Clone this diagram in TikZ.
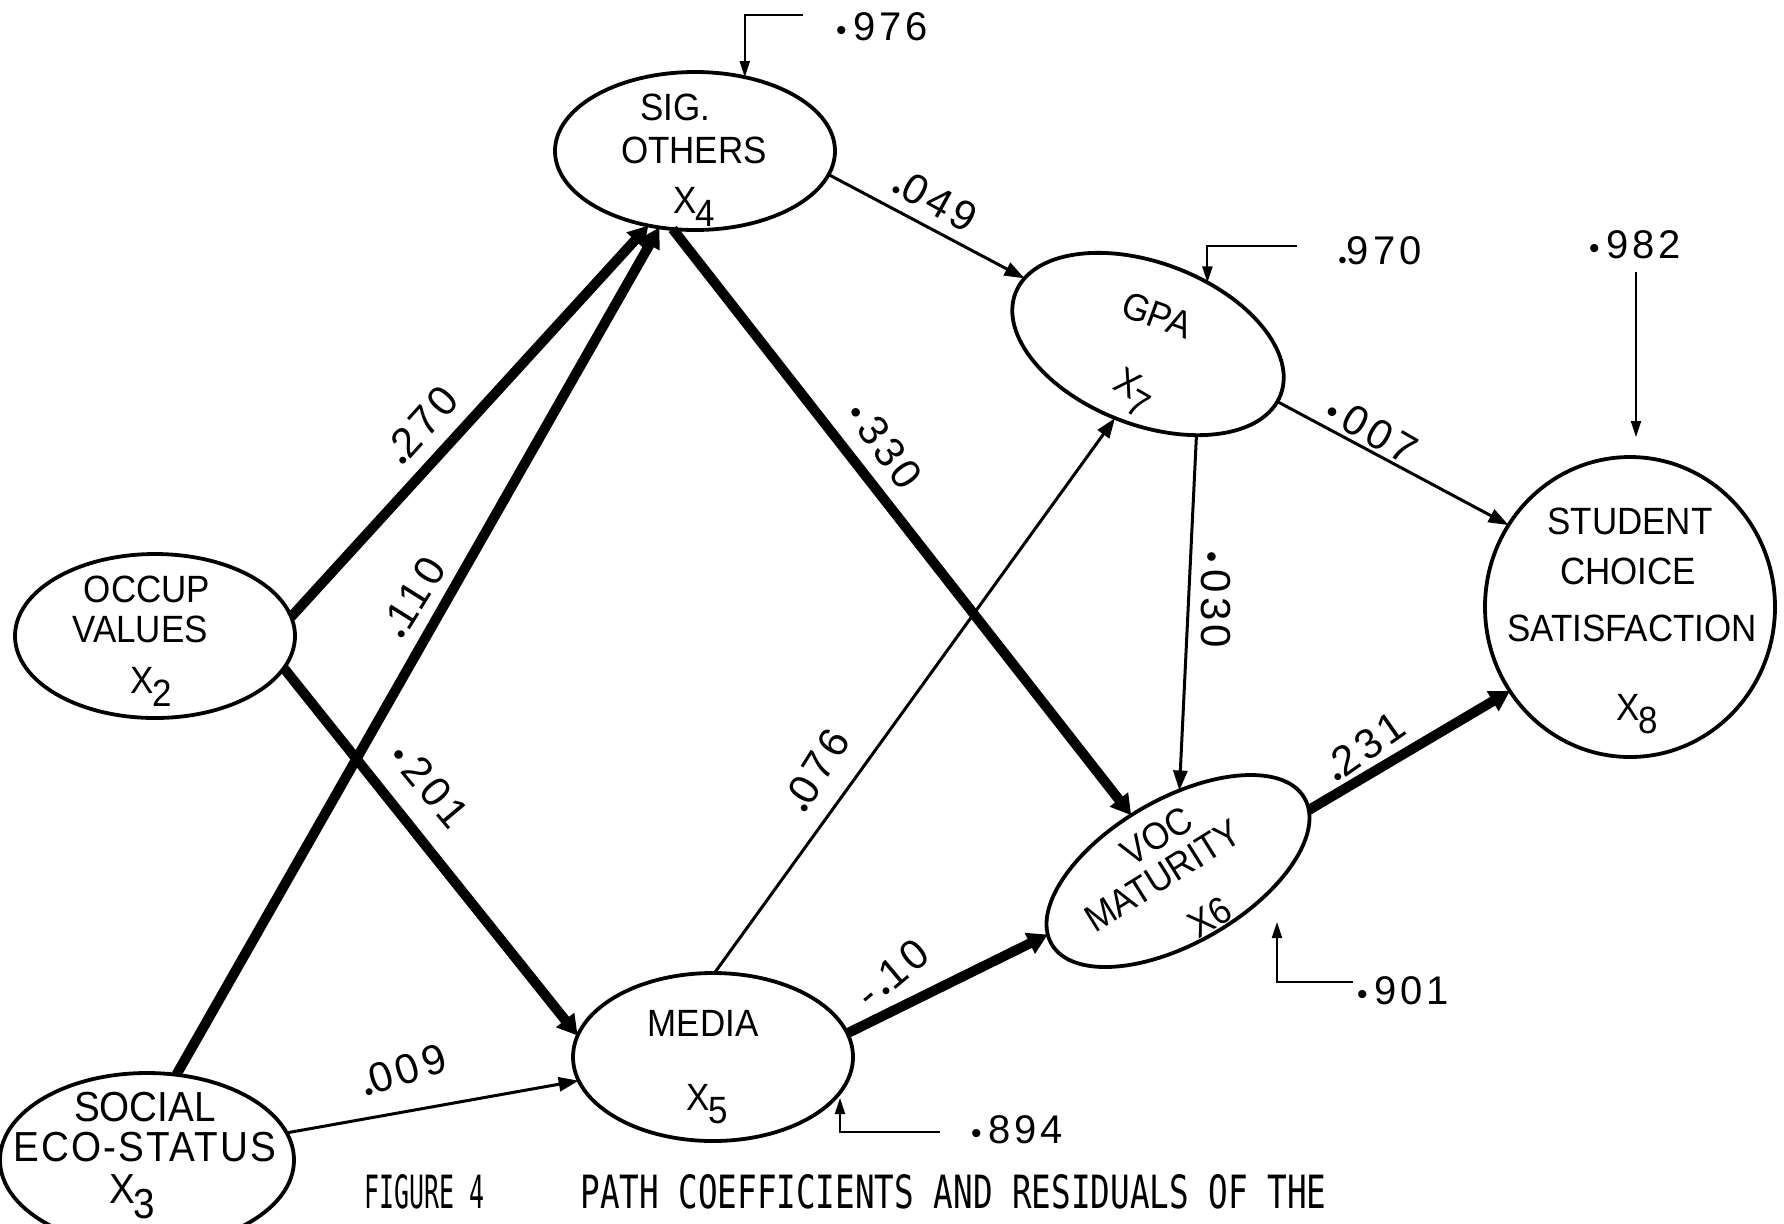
\documentclass[tikz,border=0pt]{standalone}
\usepackage{fontspec}
\setmainfont{Liberation Sans}[FakeStretch=0.92]
\newfontfamily\numfont{Liberation Sans}[LetterSpace=10]
\newfontfamily\capfont{DejaVu Sans Mono}
\usetikzlibrary{shapes.geometric,arrows.meta}

% variable name with a lowered index, as lettered on the chart
\newcommand\Xsub[1]{X\kern-0.04em\raisebox{-0.36em}{#1}}
% heavy decimal points: near the baseline and at mid height
\newcommand\bdot{\raisebox{-0.1em}{\scalebox{0.6}{\textbullet}}}
\newcommand\mdot{\scalebox{0.75}{\textbullet}\,}

\tikzset{
  var/.style={ellipse, draw, line width=1.9pt, inner sep=0pt, outer sep=0pt},
  lab/.style={font=\fontsize{19}{22}\selectfont, inner sep=0pt},
  biglab/.style={font=\fontsize{21}{24}\selectfont, inner sep=0pt},
  coef/.style={font=\numfont\fontsize{21}{24}\selectfont, inner sep=0pt},
  resnum/.style={font=\numfont\fontsize{20}{24}\selectfont, inner sep=0pt},
  thinpath/.style={line width=1.5pt, -{Triangle[length=10pt,width=7pt]}},
  thickpath/.style={line width=5pt, -{Triangle[length=10pt,width=11pt]}},
  resid/.style={line width=1pt, -{Triangle[length=8pt,width=5pt]}},
}

\begin{document}
\begin{tikzpicture}[x=0.5pt,y=-0.5pt]
\useasboundingbox (0,0) rectangle (1784,1223);
\fill[white] (0,0) rectangle (1784,1223);
\clip (0,0) rectangle (1784,1223);

% ---- variables ----
\node[var, minimum width=140pt, minimum height=79pt] (so) at (695,151) {};
\node[var, minimum width=142pt, minimum height=81pt, rotate=-21] (gpa) at (1148,344) {};
\node[var, minimum width=145pt, minimum height=150pt] (st) at (1630,607) {};
\node[var, minimum width=140pt, minimum height=82pt] (oc) at (155,636) {};
\node[var, minimum width=147pt, minimum height=87pt] (se) at (147,1160) {};
\node[var, minimum width=140pt, minimum height=84pt] (me) at (713,1057) {};
\node[var, minimum width=146pt, minimum height=72pt, rotate=30] (voc) at (1178,871) {};

% ---- names inside the ellipses ----
\node[lab, anchor=base] (so1) at (675,120) {SIG.};
\node[lab, anchor=base] (so2) at (694,163) {OTHERS};
\node[lab, anchor=base] (so3) at (694,213) {\Xsub{4}};

\node[lab, anchor=base] (oc1) at (147,602) {OCCUP};
\node[lab, anchor=base] (oc2) at (140,642) {VALUES};
\node[lab, anchor=base] (oc3) at (151,693) {\Xsub{2}};

\node[lab, anchor=base] (st1) at (1630,534) {STUDENT};
\node[lab, anchor=base] (st2) at (1628,584) {CHOICE};
\node[lab, anchor=base] (st3) at (1632,641) {SATISFACTION};
\node[lab, anchor=base] (st4) at (1637,720) {\Xsub{8}};

\node[lab, anchor=base] (me1) at (703,1036) {MEDIA};
\node[lab, anchor=base] (me2) at (707,1110) {\Xsub{5}};

\node[biglab, anchor=base] (se1) at (145,1121) {SOCIAL};
\node[biglab, anchor=base] (se2) at (145,1161) {\addfontfeature{LetterSpace=5}ECO-STATUS};
\node[biglab, anchor=base] (se3) at (132,1203) {\Xsub{3}};

\node[lab, rotate=-20] (gpa1) at (1157,315) {GPA};
\node[lab, rotate=-30] (gpa2) at (1132,393) {\Xsub{7}};

\node[lab, rotate=32] (voc1) at (1157,836) {VOC};
\node[lab, rotate=32] (voc2) at (1163,876) {MATURITY};
\node[lab, rotate=32] (voc3) at (1210,917) {X6};

% ---- paths ----
\draw[thinpath]  (so.-10)  -- (gpa.173);
\draw[thickpath] (oc.8)    -- (so.-122);
\draw[thickpath] (se.71)   -- (so.-115);
\draw[thickpath] (so.-106) -- (voc.100);
\draw[thickpath] (oc.-14)  -- (me.171);
\draw[thinpath]  (se.11)   -- (me.-170);
\draw[thinpath]  (me.89)   -- (gpa.-93);
\draw[thickpath] (me.10)   -- (voc.176);
\draw[thinpath]  (gpa.-41) -- (voc.59);
\draw[thinpath]  (gpa.-3)  -- (st.146);
\draw[thickpath] (voc.-5)  -- (st.-145);

% ---- path coefficients ----
\node[coef, rotate=-29] (k49)  at (935,202)  {\bdot049};
\node[coef, rotate=48]  (k270) at (423,426)  {\bdot270};
\node[coef, rotate=58]  (k110) at (415,598)  {\bdot110};
\node[coef, rotate=-50] (k201) at (430,785)  {\mdot201};
\node[coef, rotate=-54] (k330) at (885,445)  {\mdot330};
\node[coef, rotate=58]  (k76)  at (818,771)  {\bdot076};
\node[coef, rotate=-90] (k30)  at (1216,600) {\mdot030};
\node[coef, rotate=-30] (k7)   at (1372,430) {\mdot007};
\node[coef, rotate=35]  (k231) at (1366,748) {\bdot231};
\node[coef, rotate=40]  (k10)  at (893,975)  {-\,\bdot10};
\node[coef, rotate=18]  (k9)   at (404,1072) {\bdot009};

% ---- residuals ----
\coordinate (r976) at (803,15);
\draw[resid] (r976) -| (so.56);
\node[resnum] (n976) at (882,27) {\mdot976};

\coordinate (r970) at (1297,246);
\draw[resid] (r970) -| (gpa.67);
\node[resnum] (n970) at (1380,253) {\bdot970};

\coordinate (r982) at (1636,272);
\draw[resid, shorten >=10pt] (r982) -- (r982 |- st.north);
\node[resnum] (n982) at (1635,245) {\mdot982};

\coordinate (r901) at (1353,982);
\coordinate (t901) at (1277,922);
\draw[resid] (r901) -| (t901);
\node[resnum] (n901) at (1403,991) {\mdot901};

\coordinate (r894) at (940,1132);
\coordinate (t894) at (840,1098);
\draw[resid] (r894) -| (t894);
\node[resnum] (n894) at (1017,1130) {\mdot894};

% ---- caption ----
\node[anchor=base west, inner sep=0pt] (cap1) at (364,1208)
  {\resizebox{60pt}{17pt}{\capfont FIGURE 4}};
\node[anchor=base west, inner sep=0pt] (cap2) at (580,1208)
  {\resizebox{373pt}{17pt}{\capfont PATH COEFFICIENTS AND RESIDUALS OF THE}};
\end{tikzpicture}
\end{document}
